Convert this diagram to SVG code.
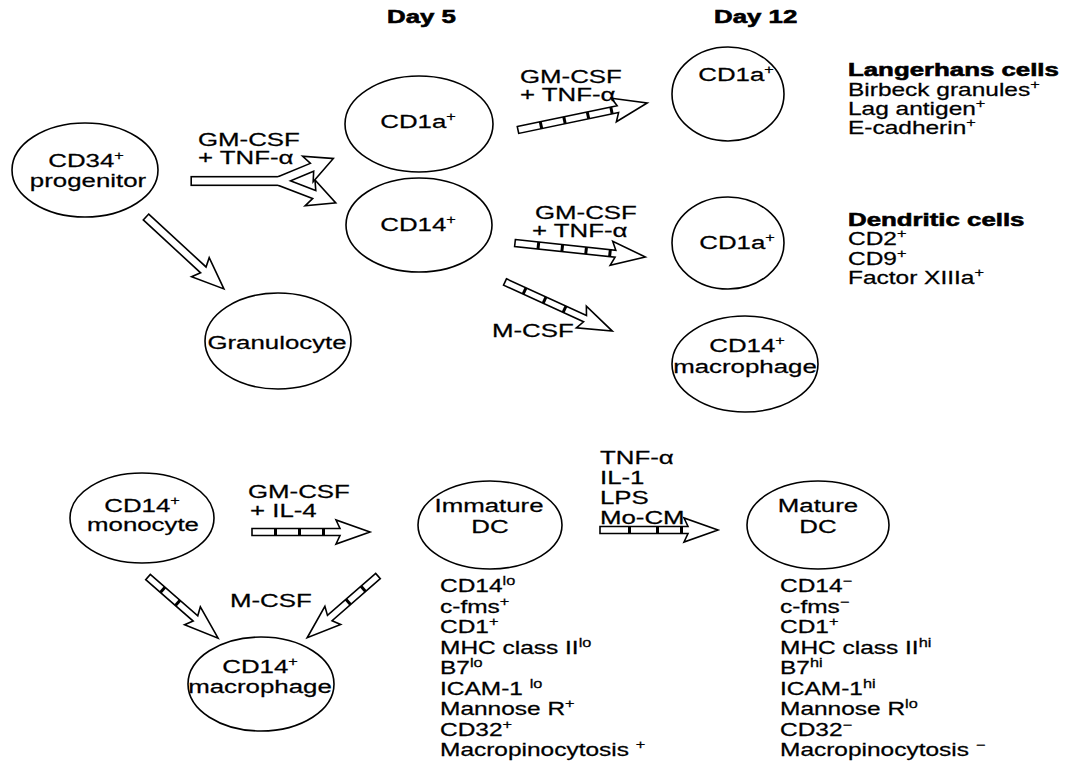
<svg xmlns="http://www.w3.org/2000/svg" width="1074" height="762" viewBox="0 0 1074 762">
<style>
  .cell{fill:#fff;stroke:#000;stroke-width:1.6}
  .t{font-family:"Liberation Sans",Arial,Helvetica,sans-serif;font-size:19px;fill:#000;stroke:#000;stroke-width:0.25}
  .s{font-size:18px}
  .b{font-weight:bold;stroke-width:0.6}
  .m{text-anchor:middle}
  .arr{fill:#fff;stroke:#000;stroke-width:1.6;stroke-linejoin:miter}
  .sep{fill:#000}
</style>
<defs>
  <g id="forkShape">
    <rect x="192" y="177.5" width="92" height="7"/>
    <path transform="translate(279,181) rotate(-22.5)" d="M0,-3.5 H37 L33,-12 L57,0 L33,12 L37,3.5 H0 Z"/>
    <path transform="translate(279,181) rotate(21)" d="M0,-3.5 H39 L35,-12 L59,0 L35,12 L39,3.5 H0 Z"/>
  </g>
</defs>
<rect width="1074" height="762" fill="#fff"/>

<g id="headers">
  <text class="t b" transform="matrix(1.36 0 0 1 387 23)" font-size="17">Day 5</text>
  <text class="t b" transform="matrix(1.36 0 0 1 714 23)" font-size="17">Day 12</text>
</g>

<g id="connectors">
  <use href="#forkShape" fill="#000" stroke="#000" stroke-width="3.2" stroke-linejoin="miter"/>
  <use href="#forkShape" fill="#fff"/>
  <path class="arr" transform="translate(146,217) rotate(42.7)" d="M0,-4 H78 L74,-13 L106,0 L74,13 L78,4 H0 Z"/>
  <g transform="translate(518,130) rotate(-11.8)">
    <path class="arr" d="M0,-3.5 H102 L98,-12 L132,0 L98,12 L102,3.5 H0 Z"/>
    <rect class="sep" x="22" y="-3.5" width="3" height="7"/><rect class="sep" x="46" y="-3.5" width="3" height="7"/><rect class="sep" x="70" y="-3.5" width="3" height="7"/><rect class="sep" x="94" y="-3.5" width="3" height="7"/>
  </g>
  <g transform="translate(515,243) rotate(6.1)">
    <path class="arr" d="M0,-3.5 H101 L97,-12 L131,0 L97,12 L101,3.5 H0 Z"/>
    <rect class="sep" x="22" y="-3.5" width="3" height="7"/><rect class="sep" x="46" y="-3.5" width="3" height="7"/><rect class="sep" x="70" y="-3.5" width="3" height="7"/><rect class="sep" x="94" y="-3.5" width="3" height="7"/>
  </g>
  <g transform="translate(505,282) rotate(24.6)">
    <path class="arr" d="M0,-3.5 H88 L84,-12 L118,0 L84,12 L88,3.5 H0 Z"/>
    <rect class="sep" x="20" y="-3.5" width="3" height="7"/><rect class="sep" x="42" y="-3.5" width="3" height="7"/><rect class="sep" x="64" y="-3.5" width="3" height="7"/>
  </g>
  <g transform="translate(252,532)">
    <path class="arr" d="M0,-3.5 H88 L84,-12 L118,0 L84,12 L88,3.5 H0 Z"/>
    <rect class="sep" x="22" y="-3.5" width="3" height="7"/><rect class="sep" x="46" y="-3.5" width="3" height="7"/><rect class="sep" x="70" y="-3.5" width="3" height="7"/>
  </g>
  <g transform="translate(148,577) rotate(41.1)">
    <path class="arr" d="M0,-3.5 H63 L59,-12 L93,0 L59,12 L63,3.5 H0 Z"/>
    <rect class="sep" x="18" y="-3.5" width="3" height="7"/><rect class="sep" x="38" y="-3.5" width="3" height="7"/>
  </g>
  <g transform="translate(378,576) rotate(138.9)">
    <path class="arr" d="M0,-3.5 H64 L60,-12 L94,0 L60,12 L64,3.5 H0 Z"/>
    <rect class="sep" x="18" y="-3.5" width="3" height="7"/><rect class="sep" x="38" y="-3.5" width="3" height="7"/>
  </g>
  <g transform="translate(600,530)">
    <path class="arr" d="M0,-3.5 H88 L84,-12 L118,0 L84,12 L88,3.5 H0 Z"/>
    <rect class="sep" x="28" y="-3.5" width="3" height="7"/><rect class="sep" x="56" y="-3.5" width="3" height="7"/><rect class="sep" x="80" y="-3.5" width="3" height="7"/>
  </g>
</g>

<g id="labels">
  <text class="t" transform="matrix(1.36 0 0 1 198 146)">GM-CSF</text>
  <text class="t" transform="matrix(1.36 0 0 1 198 164)">+ TNF-α</text>
  <text class="t" transform="matrix(1.36 0 0 1 520 83)">GM-CSF</text>
  <text class="t" transform="matrix(1.36 0 0 1 520 101)">+ TNF-α</text>
  <text class="t" transform="matrix(1.36 0 0 1 535 219)">GM-CSF</text>
  <text class="t" transform="matrix(1.36 0 0 1 532 237)">+ TNF-α</text>
  <text class="t" transform="matrix(1.36 0 0 1 492 337)">M-CSF</text>
  <text class="t" transform="matrix(1.36 0 0 1 248 498)">GM-CSF</text>
  <text class="t" transform="matrix(1.36 0 0 1 250 517)">+ IL-4</text>
  <text class="t" transform="matrix(1.36 0 0 1 230 607)">M-CSF</text>
  <text class="t" transform="matrix(1.36 0 0 1 600 464)">TNF-α</text>
  <text class="t" transform="matrix(1.36 0 0 1 600 484)">IL-1</text>
  <text class="t" transform="matrix(1.36 0 0 1 600 504)">LPS</text>
  <text class="t" transform="matrix(1.36 0 0 1 600 524)">Mo-CM</text>
</g>

<g id="node-cd34">
  <ellipse class="cell" cx="85" cy="170" rx="73" ry="47"/>
  <text class="t m" transform="matrix(1.36 0 0 1 86 167)">CD34<tspan dy="-7" font-size="12">+</tspan></text>
  <text class="t m" transform="matrix(1.36 0 0 1 88 187)">progenitor</text>
</g>
<g id="node-cd1a-day5">
  <ellipse class="cell" cx="419" cy="124" rx="74" ry="48"/>
  <text class="t m" transform="matrix(1.36 0 0 1 418 128)">CD1a<tspan dy="-7" font-size="12">+</tspan></text>
</g>
<g id="node-cd14-day5">
  <ellipse class="cell" cx="419" cy="225" rx="73" ry="47"/>
  <text class="t m" transform="matrix(1.36 0 0 1 418 231)">CD14<tspan dy="-7" font-size="12">+</tspan></text>
</g>
<g id="node-granulocyte">
  <ellipse class="cell" cx="278" cy="341" rx="73" ry="48"/>
  <text class="t m" transform="matrix(1.36 0 0 1 277 349)">Granulocyte</text>
</g>
<g id="node-langerhans">
  <ellipse class="cell" cx="728" cy="94" rx="56" ry="47"/>
  <text class="t m" transform="matrix(1.36 0 0 1 736 81)">CD1a<tspan dy="-7" font-size="12">+</tspan></text>
  <text class="t b" transform="matrix(1.36 0 0 1 848 76)">Langerhans cells</text>
  <text class="t s" transform="matrix(1.36 0 0 1 848 96)">Birbeck granules<tspan dy="-7" font-size="12">+</tspan></text>
  <text class="t s" transform="matrix(1.36 0 0 1 848 115)">Lag antigen<tspan dy="-7" font-size="12">+</tspan></text>
  <text class="t s" transform="matrix(1.36 0 0 1 848 134)">E-cadherin<tspan dy="-7" font-size="12">+</tspan></text>
</g>
<g id="node-dendritic">
  <ellipse class="cell" cx="728" cy="243" rx="56" ry="46"/>
  <text class="t m" transform="matrix(1.36 0 0 1 737 249)">CD1a<tspan dy="-7" font-size="12">+</tspan></text>
  <text class="t b" transform="matrix(1.36 0 0 1 848 226)">Dendritic cells</text>
  <text class="t s" transform="matrix(1.36 0 0 1 848 245)">CD2<tspan dy="-7" font-size="12">+</tspan></text>
  <text class="t s" transform="matrix(1.36 0 0 1 848 265)">CD9<tspan dy="-7" font-size="12">+</tspan></text>
  <text class="t s" transform="matrix(1.36 0 0 1 848 284)">Factor XIIIa<tspan dy="-7" font-size="12">+</tspan></text>
</g>
<g id="node-macrophage-top">
  <ellipse class="cell" cx="745" cy="364" rx="73" ry="48"/>
  <text class="t m" transform="matrix(1.36 0 0 1 747 352)">CD14<tspan dy="-7" font-size="12">+</tspan></text>
  <text class="t m" transform="matrix(1.36 0 0 1 745 373)">macrophage</text>
</g>

<g id="node-monocyte">
  <ellipse class="cell" cx="142" cy="518" rx="72" ry="45"/>
  <text class="t m" transform="matrix(1.36 0 0 1 142 512)">CD14<tspan dy="-7" font-size="12">+</tspan></text>
  <text class="t m" transform="matrix(1.36 0 0 1 143 531)">monocyte</text>
</g>
<g id="node-macrophage-bottom">
  <ellipse class="cell" cx="261" cy="684" rx="73" ry="47"/>
  <text class="t m" transform="matrix(1.36 0 0 1 260 673)">CD14<tspan dy="-7" font-size="12">+</tspan></text>
  <text class="t m" transform="matrix(1.36 0 0 1 260 693)">macrophage</text>
</g>
<g id="node-immature">
  <ellipse class="cell" cx="490" cy="525" rx="72" ry="44"/>
  <text class="t m" transform="matrix(1.36 0 0 1 489 512)">Immature</text>
  <text class="t m" transform="matrix(1.36 0 0 1 490 533)">DC</text>
  <text class="t s" transform="matrix(1.36 0 0 1 440 592)">CD14<tspan dy="-7" font-size="12">lo</tspan></text>
  <text class="t s" transform="matrix(1.36 0 0 1 440 612.5)">c-fms<tspan dy="-7" font-size="12">+</tspan></text>
  <text class="t s" transform="matrix(1.36 0 0 1 440 633)">CD1<tspan dy="-7" font-size="12">+</tspan></text>
  <text class="t s" transform="matrix(1.36 0 0 1 440 653.5)">MHC class II<tspan dy="-7" font-size="12">lo</tspan></text>
  <text class="t s" transform="matrix(1.36 0 0 1 440 674)">B7<tspan dy="-7" font-size="12">lo</tspan></text>
  <text class="t s" transform="matrix(1.36 0 0 1 440 694.5)">ICAM-1 <tspan dy="-7" font-size="12">lo</tspan></text>
  <text class="t s" transform="matrix(1.36 0 0 1 440 715)">Mannose R<tspan dy="-7" font-size="12">+</tspan></text>
  <text class="t s" transform="matrix(1.36 0 0 1 440 735.5)">CD32<tspan dy="-7" font-size="12">+</tspan></text>
  <text class="t s" transform="matrix(1.36 0 0 1 440 756)">Macropinocytosis <tspan dy="-7" font-size="12">+</tspan></text>
</g>
<g id="node-mature">
  <ellipse class="cell" cx="818" cy="525" rx="71" ry="44"/>
  <text class="t m" transform="matrix(1.36 0 0 1 818 512)">Mature</text>
  <text class="t m" transform="matrix(1.36 0 0 1 818 533)">DC</text>
  <text class="t s" transform="matrix(1.36 0 0 1 780 592)">CD14<tspan dy="-7" font-size="12">−</tspan></text>
  <text class="t s" transform="matrix(1.36 0 0 1 780 612.5)">c-fms<tspan dy="-7" font-size="12">−</tspan></text>
  <text class="t s" transform="matrix(1.36 0 0 1 780 633)">CD1<tspan dy="-7" font-size="12">+</tspan></text>
  <text class="t s" transform="matrix(1.36 0 0 1 780 653.5)">MHC class II<tspan dy="-7" font-size="12">hi</tspan></text>
  <text class="t s" transform="matrix(1.36 0 0 1 780 674)">B7<tspan dy="-7" font-size="12">hi</tspan></text>
  <text class="t s" transform="matrix(1.36 0 0 1 780 694.5)">ICAM-1<tspan dy="-7" font-size="12">hi</tspan></text>
  <text class="t s" transform="matrix(1.36 0 0 1 780 715)">Mannose R<tspan dy="-7" font-size="12">lo</tspan></text>
  <text class="t s" transform="matrix(1.36 0 0 1 780 735.5)">CD32<tspan dy="-7" font-size="12">−</tspan></text>
  <text class="t s" transform="matrix(1.36 0 0 1 780 756)">Macropinocytosis <tspan dy="-7" font-size="12">−</tspan></text>
</g>
</svg>
